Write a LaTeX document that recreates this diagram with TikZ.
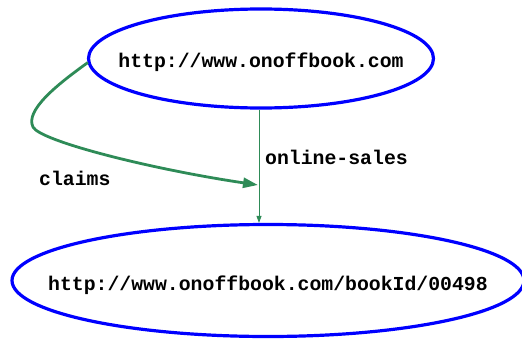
\documentclass[tikz,border=0pt]{standalone}
\usepackage{fontspec}
\setmonofont{Liberation Mono}
\usetikzlibrary{shapes.geometric,arrows.meta}
\definecolor{edgegreen}{RGB}{46,139,87}
\definecolor{nodeblue}{RGB}{0,0,255}
\tikzset{
  res/.style={ellipse,draw=nodeblue,line width=3.2pt,inner sep=0pt,
    font=\fontsize{19.8}{22}\selectfont\ttfamily\bfseries},
  lbl/.style={font=\fontsize{19.8}{22}\selectfont\ttfamily\bfseries,inner sep=0pt,anchor=west},
  thinedge/.style={draw=edgegreen,line width=0.9pt,-{Triangle[length=7pt,width=5pt]}},
  thickedge/.style={draw=edgegreen,line width=2.8pt,-{Triangle[length=15pt,width=10pt]}}
}
\begin{document}
\begin{tikzpicture}[x=1pt,y=1pt]
\useasboundingbox (0,0) rectangle (522,341);
\node[res,minimum width=345pt,minimum height=99pt] (a) at (261,282.5) {\makebox[0pt]{\raisebox{-8.5pt}[0pt][0pt]{http://www.onoffbook.com}}};
\node[res,minimum width=512pt,minimum height=112pt] (b) at (268,60.5) {\makebox[0pt]{\raisebox{-9.5pt}[0pt][0pt]{http://www.onoffbook.com/bookId/00498}}};
\draw[thinedge] ([xshift=-2pt]a.south) -- ([xshift=-2pt]a.south |- b.north);
\node[lbl] (ol) at (265,184) {online-sales};
\coordinate (c) at (258,156);
\draw[thickedge] (a.west) ++(1,-4) .. controls (55,255) and (25,230) .. (33,214) .. controls (40,200) and (150,172) .. (c);
\node[lbl] (cl) at (39,163) {claims};
\end{tikzpicture}
\end{document}
